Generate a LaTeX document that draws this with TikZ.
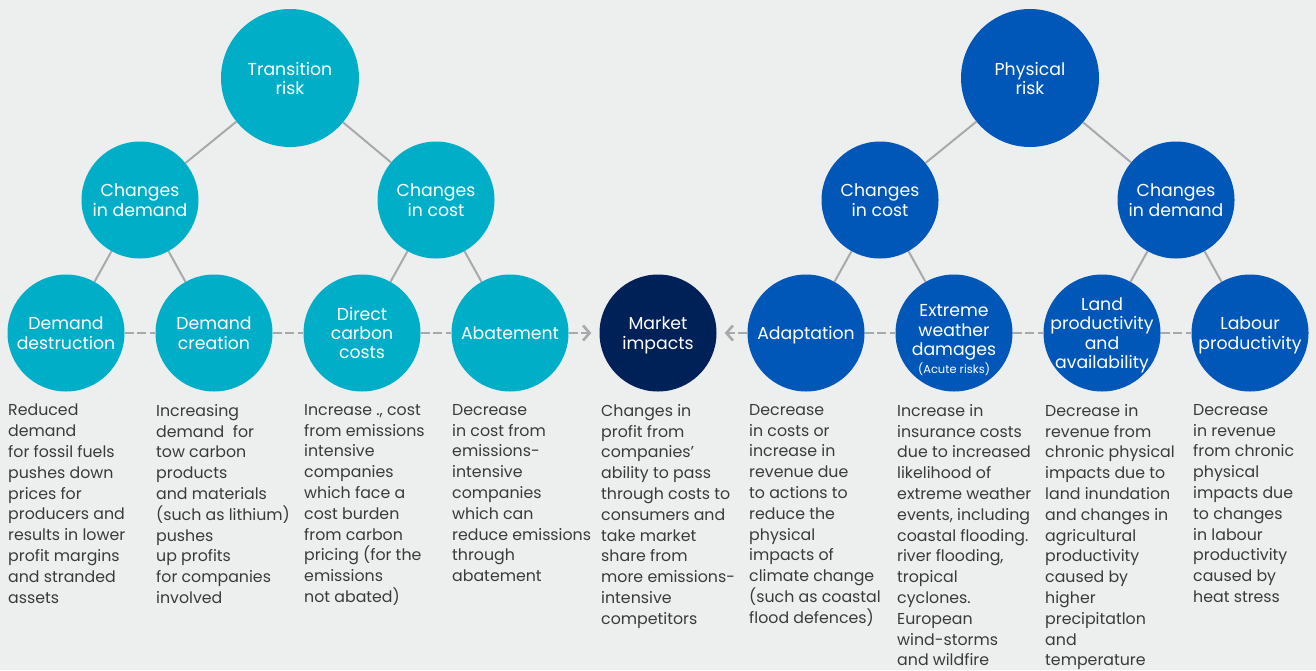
\documentclass[tikz,border=0pt]{standalone}
\usepackage{fontspec}
\setmainfont{Poppins}
\usetikzlibrary{arrows.meta}
\definecolor{bg}{HTML}{EDEFEF}
\definecolor{teal}{HTML}{00AEC7}
\definecolor{pblue}{HTML}{0057B8}
\definecolor{navy}{HTML}{002157}
\definecolor{lgrey}{HTML}{A7A9AC}
\definecolor{txt}{HTML}{3A3A3A}
\tikzset{
  x=1pt, y=-1pt,
  lbl/.style={inner sep=0pt, text=white, align=center,
    font=\fontsize{17.3}{19.2}\selectfont,
    execute at begin node=\strut, execute at end node=\strut, yshift=-3pt},
  bubble/.style={circle, inner sep=0pt, label={[lbl]center:{#1}}},
  bigb/.style={bubble=#1, minimum size=138pt},
  smallb/.style={bubble=#1, minimum size=117pt},
  conn/.style={draw=lgrey, line width=2pt},
  dashline/.style={draw=lgrey, line width=2.8pt, dash pattern=on 9pt off 3.5pt},
  arr/.style={dashline, -{Straight Barb[length=6.5pt,width=15pt,line width=2.6pt]}, shorten >=8pt},
  body/.style={anchor=north west, inner sep=0pt, align=left, text=txt,
    font=\fontsize{15.8}{20.8}\selectfont},
}
\begin{document}
\begin{tikzpicture}
\fill[bg] (0,0) rectangle (1316,670);
\useasboundingbox (0,0) rectangle (1316,670);
% top
\node[bigb={Transition\\risk}, fill=teal] (tr) at (290,78) {};
\node[bigb={Physical\\risk}, fill=pblue] (pr) at (1030,78) {};
% middle
\node[smallb={Changes\\in demand}, fill=teal] (cdl) at (140,200) {};
\node[smallb={Changes\\in cost}, fill=teal] (ccl) at (436,200) {};
\node[smallb={Changes\\in cost}, fill=pblue] (ccr) at (880,200) {};
\node[smallb={Changes\\in demand}, fill=pblue] (cdr) at (1176,200) {};
% bottom
\node[smallb={Demand\\destruction}, fill=teal] (dd) at (66,333) {};
\node[smallb={Demand\\creation}, fill=teal] (dc) at (214,333) {};
\node[smallb={Direct\\carbon\\costs}, fill=teal] (dcc) at (362,333) {};
\node[smallb={Abatement}, fill=teal] (ab) at (510,333) {};
\node[smallb={Market\\impacts}, fill=navy] (mi) at (658,333) {};
\node[smallb={Adaptation}, fill=pblue] (ad) at (806,333) {};
\node[circle, inner sep=0pt, minimum size=117pt, fill=pblue,
  label={[lbl, yshift=-6pt]center:{Extreme\\weather\\damages\\[-1pt]{\fontsize{11.5}{13}\selectfont(Acute risks)}}}] (ew) at (954,333) {};
\node[smallb={Land\\productivity\\and\\availability}, fill=pblue] (lp) at (1102,333) {};
\node[smallb={Labour\\productivity}, fill=pblue] (lb) at (1250,333) {};
% tree connectors
\draw[conn] (tr) -- (cdl);
\draw[conn] (tr) -- (ccl);
\draw[conn] (cdl) -- (dd);
\draw[conn] (cdl) -- (dc);
\draw[conn] (ccl) -- (dcc);
\draw[conn] (ccl) -- (ab);
\draw[conn] (pr) -- (ccr);
\draw[conn] (pr) -- (cdr);
\draw[conn] (ccr) -- (ad);
\draw[conn] (ccr) -- (ew);
\draw[conn] (cdr) -- (lp);
\draw[conn] (cdr) -- (lb);
% dashed links
\draw[dashline] (dd) -- (dc);
\draw[dashline] (dc) -- (dcc);
\draw[dashline] (dcc) -- (ab);
\draw[arr] (ab) -- (mi);
\draw[arr] (ad) -- (mi);
\draw[dashline] (ad) -- (ew);
\draw[dashline] (ew) -- (lp);
\draw[dashline] (lp) -- (lb);
% descriptions
\node[body] (t1) at (8,404) {Reduced\\demand\\for fossil fuels\\pushes down\\prices for\\producers and\\results in lower\\profit margins\\and stranded\\assets};
\node[body] (t2) at (156,404) {Increasing\\demand\ \ for\\tow carbon\\products\\and materials\\(such as lithium)\\pushes\\up profits\\for companies\\involved};
\node[body] (t3) at (304,404) {Increase ., cost\\from emissions\\intensive\\companies\\which face a\\cost burden\\from carbon\\pricing (for the\\emissions\\not abated)};
\node[body] (t4) at (452,404) {Decrease\\in cost from\\emissions-\\intensive\\companies\\which can\\reduce emissions\\through\\abatement};
\node[body] (t5) at (601,404) {Changes in\\profit from\\companies’\\ability to pass\\through costs to\\consumers and\\take market\\share from\\more emissions-\\intensive\\competitors};
\node[body] (t6) at (749,404) {Decrease\\in costs or\\increase in\\revenue due\\to actions to\\reduce the\\physical\\impacts of\\climate change\\(such as coastal\\flood defences)};
\node[body] (t7) at (897,404) {Increase in\\insurance costs\\due to increased\\likelihood of\\extreme weather\\events, including\\coastal flooding.\\river flooding,\\tropical\\cyclones.\\European\\wind-storms\\and wildfire};
\node[body] (t8) at (1045,404) {Decrease in\\revenue from\\chronic physical\\impacts due to\\land inundation\\and changes in\\agricultural\\productivity\\caused by\\higher\\precipitatlon\\and\\temperature};
\node[body] (t9) at (1193,404) {Decrease\\in revenue\\from chronic\\physical\\impacts due\\to changes\\in labour\\productivity\\caused by\\heat stress};
\end{tikzpicture}
\end{document}
